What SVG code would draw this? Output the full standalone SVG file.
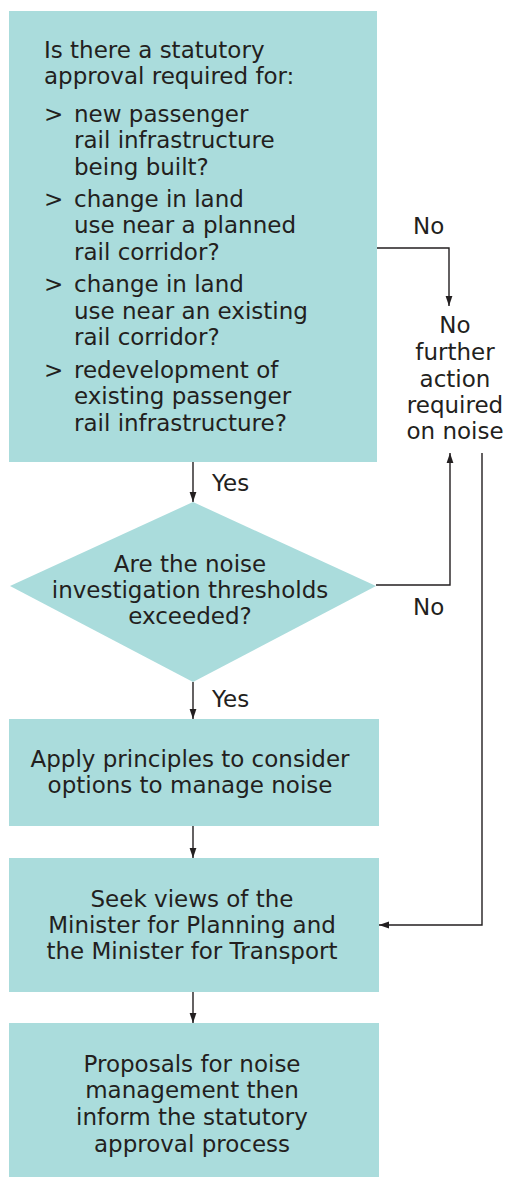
<svg xmlns="http://www.w3.org/2000/svg" width="512" height="1178" viewBox="0 0 512 1178">
  <style>
    .box { fill: #aadcdc; }
    .t { font-family: "DejaVu Sans", "Liberation Sans", sans-serif; font-size: 23px; fill: #231f20; }
    .c { text-anchor: middle; }
    .edge { fill: none; stroke: #231f20; stroke-width: 1.4; marker-end: url(#arrow); }
  </style>
  <defs>
    <marker id="arrow" markerUnits="userSpaceOnUse" markerWidth="10" markerHeight="8" refX="10" refY="4" orient="auto">
      <path d="M0,0.6 L10,4 L0,7.4 z" fill="#231f20"/>
    </marker>
  </defs>

  <rect width="512" height="1178" fill="#ffffff"/>

  <!-- decision: statutory approval -->
  <g id="node-approval">
    <rect class="box" x="9" y="11" width="368" height="451"/>
    <text class="t" x="44" y="58">Is there a statutory</text>
    <text class="t" x="44" y="84">approval required for:</text>
    <text class="t" x="44" y="122">&gt;</text>
    <text class="t" x="74" y="122">new passenger</text>
    <text class="t" x="74" y="148">rail infrastructure</text>
    <text class="t" x="74" y="175">being built?</text>
    <text class="t" x="44" y="207">&gt;</text>
    <text class="t" x="74" y="207">change in land</text>
    <text class="t" x="74" y="233">use near a planned</text>
    <text class="t" x="74" y="260">rail corridor?</text>
    <text class="t" x="44" y="292">&gt;</text>
    <text class="t" x="74" y="292">change in land</text>
    <text class="t" x="74" y="319">use near an existing</text>
    <text class="t" x="74" y="345">rail corridor?</text>
    <text class="t" x="44" y="378">&gt;</text>
    <text class="t" x="74" y="378">redevelopment of</text>
    <text class="t" x="74" y="404">existing passenger</text>
    <text class="t" x="74" y="431">rail infrastructure?</text>
  </g>

  <!-- outcome: nothing further -->
  <g id="node-no-action">
    <text class="t c" x="455" y="333">No</text>
    <text class="t c" x="455" y="360">further</text>
    <text class="t c" x="455" y="387">action</text>
    <text class="t c" x="455" y="413">required</text>
    <text class="t c" x="455" y="439">on noise</text>
  </g>

  <!-- decision: thresholds -->
  <g id="node-thresholds">
    <polygon class="box" points="193,502 376,586 193,682 10,586"/>
    <text class="t c" x="190" y="572">Are the noise</text>
    <text class="t c" x="190" y="598">investigation thresholds</text>
    <text class="t c" x="190" y="624">exceeded?</text>
  </g>

  <g id="node-principles">
    <rect class="box" x="9" y="719" width="370" height="107"/>
    <text class="t c" x="190" y="767">Apply principles to consider</text>
    <text class="t c" x="190" y="793">options to manage noise</text>
  </g>

  <g id="node-ministers">
    <rect class="box" x="9" y="858" width="370" height="134"/>
    <text class="t c" x="192" y="907">Seek views of the</text>
    <text class="t c" x="192" y="933">Minister for Planning and</text>
    <text class="t c" x="192" y="959">the Minister for Transport</text>
  </g>

  <g id="node-proposals">
    <rect class="box" x="9" y="1023" width="370" height="154"/>
    <text class="t c" x="192" y="1072">Proposals for noise</text>
    <text class="t c" x="192" y="1098">management then</text>
    <text class="t c" x="192" y="1125">inform the statutory</text>
    <text class="t c" x="192" y="1152">approval process</text>
  </g>

  <!-- connectors -->
  <g id="connectors">
    <path class="edge" d="M193,462 V502"/>
    <path class="edge" d="M377,248 H449 V306"/>
    <path class="edge" d="M376,585 H450 V453"/>
    <path class="edge" d="M193,682 V719"/>
    <path class="edge" d="M193,826 V858"/>
    <path class="edge" d="M482,453 V925 H379"/>
    <path class="edge" d="M193,992 V1023"/>
    <text class="t" x="212" y="491">Yes</text>
    <text class="t" x="413" y="234">No</text>
    <text class="t" x="413" y="615">No</text>
    <text class="t" x="212" y="707">Yes</text>
  </g>
</svg>
